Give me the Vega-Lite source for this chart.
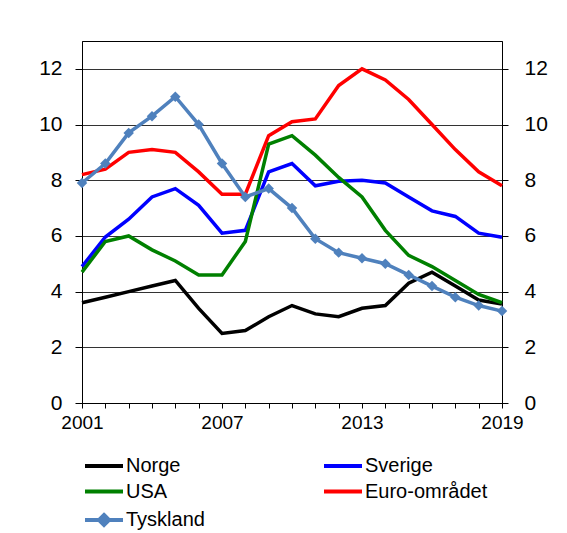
{
  "$schema": "https://vega.github.io/schema/vega-lite/v6.json",
  "width": 420,
  "height": 362,
  "autosize": {"type": "none"},
  "padding": {"left": 82, "top": 41, "right": 65, "bottom": 130},
  "background": "white",
  "config": {
    "font": "Liberation Sans",
    "view": {"stroke": "black", "strokeWidth": 1},
    "axis": {"labelFont": "Liberation Sans", "labelColor": "black", "domainColor": "black", "tickColor": "black", "titleFont": "Liberation Sans"}
  },
  "data": {
    "values": [
      {"year": 2001, "country": "Norge", "value": 3.6},
      {"year": 2002, "country": "Norge", "value": 3.8},
      {"year": 2003, "country": "Norge", "value": 4.0},
      {"year": 2004, "country": "Norge", "value": 4.2},
      {"year": 2005, "country": "Norge", "value": 4.4},
      {"year": 2006, "country": "Norge", "value": 3.4},
      {"year": 2007, "country": "Norge", "value": 2.5},
      {"year": 2008, "country": "Norge", "value": 2.6},
      {"year": 2009, "country": "Norge", "value": 3.1},
      {"year": 2010, "country": "Norge", "value": 3.5},
      {"year": 2011, "country": "Norge", "value": 3.2},
      {"year": 2012, "country": "Norge", "value": 3.1},
      {"year": 2013, "country": "Norge", "value": 3.4},
      {"year": 2014, "country": "Norge", "value": 3.5},
      {"year": 2015, "country": "Norge", "value": 4.3},
      {"year": 2016, "country": "Norge", "value": 4.7},
      {"year": 2017, "country": "Norge", "value": 4.2},
      {"year": 2018, "country": "Norge", "value": 3.7},
      {"year": 2019, "country": "Norge", "value": 3.55},
      {"year": 2001, "country": "Sverige", "value": 4.9},
      {"year": 2002, "country": "Sverige", "value": 5.96},
      {"year": 2003, "country": "Sverige", "value": 6.6},
      {"year": 2004, "country": "Sverige", "value": 7.4},
      {"year": 2005, "country": "Sverige", "value": 7.7},
      {"year": 2006, "country": "Sverige", "value": 7.1},
      {"year": 2007, "country": "Sverige", "value": 6.1},
      {"year": 2008, "country": "Sverige", "value": 6.2},
      {"year": 2009, "country": "Sverige", "value": 8.3},
      {"year": 2010, "country": "Sverige", "value": 8.6},
      {"year": 2011, "country": "Sverige", "value": 7.8},
      {"year": 2012, "country": "Sverige", "value": 7.96},
      {"year": 2013, "country": "Sverige", "value": 8.0},
      {"year": 2014, "country": "Sverige", "value": 7.9},
      {"year": 2015, "country": "Sverige", "value": 7.4},
      {"year": 2016, "country": "Sverige", "value": 6.9},
      {"year": 2017, "country": "Sverige", "value": 6.7},
      {"year": 2018, "country": "Sverige", "value": 6.1},
      {"year": 2019, "country": "Sverige", "value": 5.95},
      {"year": 2001, "country": "USA", "value": 4.7},
      {"year": 2002, "country": "USA", "value": 5.8},
      {"year": 2003, "country": "USA", "value": 6.0},
      {"year": 2004, "country": "USA", "value": 5.5},
      {"year": 2005, "country": "USA", "value": 5.1},
      {"year": 2006, "country": "USA", "value": 4.6},
      {"year": 2007, "country": "USA", "value": 4.6},
      {"year": 2008, "country": "USA", "value": 5.8},
      {"year": 2009, "country": "USA", "value": 9.3},
      {"year": 2010, "country": "USA", "value": 9.6},
      {"year": 2011, "country": "USA", "value": 8.9},
      {"year": 2012, "country": "USA", "value": 8.1},
      {"year": 2013, "country": "USA", "value": 7.4},
      {"year": 2014, "country": "USA", "value": 6.2},
      {"year": 2015, "country": "USA", "value": 5.3},
      {"year": 2016, "country": "USA", "value": 4.9},
      {"year": 2017, "country": "USA", "value": 4.4},
      {"year": 2018, "country": "USA", "value": 3.9},
      {"year": 2019, "country": "USA", "value": 3.6},
      {"year": 2001, "country": "Euro-området", "value": 8.2},
      {"year": 2002, "country": "Euro-området", "value": 8.4},
      {"year": 2003, "country": "Euro-området", "value": 9.0},
      {"year": 2004, "country": "Euro-området", "value": 9.1},
      {"year": 2005, "country": "Euro-området", "value": 9.0},
      {"year": 2006, "country": "Euro-området", "value": 8.3},
      {"year": 2007, "country": "Euro-området", "value": 7.5},
      {"year": 2008, "country": "Euro-området", "value": 7.5},
      {"year": 2009, "country": "Euro-området", "value": 9.6},
      {"year": 2010, "country": "Euro-området", "value": 10.1},
      {"year": 2011, "country": "Euro-området", "value": 10.2},
      {"year": 2012, "country": "Euro-området", "value": 11.4},
      {"year": 2013, "country": "Euro-området", "value": 12.0},
      {"year": 2014, "country": "Euro-området", "value": 11.6},
      {"year": 2015, "country": "Euro-området", "value": 10.9},
      {"year": 2016, "country": "Euro-området", "value": 10.0},
      {"year": 2017, "country": "Euro-området", "value": 9.1},
      {"year": 2018, "country": "Euro-området", "value": 8.3},
      {"year": 2019, "country": "Euro-området", "value": 7.8},
      {"year": 2001, "country": "Tyskland", "value": 7.9},
      {"year": 2002, "country": "Tyskland", "value": 8.6},
      {"year": 2003, "country": "Tyskland", "value": 9.7},
      {"year": 2004, "country": "Tyskland", "value": 10.3},
      {"year": 2005, "country": "Tyskland", "value": 11.0},
      {"year": 2006, "country": "Tyskland", "value": 10.0},
      {"year": 2007, "country": "Tyskland", "value": 8.6},
      {"year": 2008, "country": "Tyskland", "value": 7.4},
      {"year": 2009, "country": "Tyskland", "value": 7.7},
      {"year": 2010, "country": "Tyskland", "value": 7.0},
      {"year": 2011, "country": "Tyskland", "value": 5.9},
      {"year": 2012, "country": "Tyskland", "value": 5.4},
      {"year": 2013, "country": "Tyskland", "value": 5.2},
      {"year": 2014, "country": "Tyskland", "value": 5.0},
      {"year": 2015, "country": "Tyskland", "value": 4.6},
      {"year": 2016, "country": "Tyskland", "value": 4.2},
      {"year": 2017, "country": "Tyskland", "value": 3.8},
      {"year": 2018, "country": "Tyskland", "value": 3.5},
      {"year": 2019, "country": "Tyskland", "value": 3.3}
    ]
  },
  "encoding": {
    "x": {
      "field": "year", "type": "quantitative",
      "scale": {"domain": [2001, 2019], "nice": false, "zero": false},
      "axis": {
        "title": null, "grid": false,
        "values": [2001,2002,2003,2004,2005,2006,2007,2008,2009,2010,2011,2012,2013,2014,2015,2016,2017,2018,2019],
        "labelExpr": "(datum.value - 2001) % 6 === 0 ? datum.value : ''",
        "format": "d", "tickSize": 5, "labelPadding": 5, "labelFontSize": 19,
        "labelFlush": false, "labelOverlap": false, "domainColor": "black"
      }
    },
    "y": {
      "field": "value", "type": "quantitative",
      "scale": {"domain": [0, 13], "nice": false}
    }
  },
  "layer": [
    {
      "mark": {"type": "line", "strokeWidth": 3.5, "strokeJoin": "miter"},
      "encoding": {
        "y": {
          "field": "value", "type": "quantitative",
          "axis": {"title": null, "orient": "left", "values": [0,2,4,6,8,10,12], "grid": true, "gridColor": "#333333", "gridWidth": 1, "tickSize": 7, "labelPadding": 13, "labelFontSize": 21, "domainColor": "black"}
        },
        "color": {
          "field": "country", "type": "nominal",
          "scale": {
            "domain": ["Norge", "Sverige", "USA", "Euro-området", "Tyskland"],
            "range": ["#000000", "#0000FF", "#008000", "#FF0000", "#4F81BD"]
          },
          "legend": {
            "orient": "none", "legendX": -2, "legendY": 415, "direction": "horizontal",
            "title": null, "columns": 2, "columnPadding": 111, "rowPadding": 5.5,
            "labelFontSize": 20, "labelFont": "Liberation Sans", "labelColor": "black",
            "labelOffset": 26, "symbolSize": 100, "symbolStrokeWidth": 4,
            "labelLimit": 300,
            "encode": {
              "symbols": {
                "update": {
                  "shape": {"signal": "datum.value === 'Tyskland' ? 'M-1,0L6.6,0M2.8,-1L3.8,0L2.8,1L1.8,0Z' : 'M-1,0L6.6,0'"},
                  "fill": {"signal": "datum.value === 'Tyskland' ? '#4F81BD' : 'transparent'"},
                  "strokeWidth": {"value": 4}
                }
              }
            }
          }
        }
      }
    },
    {
      "transform": [{"filter": "datum.country === 'Tyskland'"}],
      "mark": {"type": "point", "shape": "diamond", "size": 110, "filled": true, "opacity": 1, "color": "#4F81BD"},
      "encoding": {
        "y": {
          "field": "value", "type": "quantitative",
          "axis": {"title": null, "orient": "right", "values": [0,2,4,6,8,10,12], "grid": false, "tickSize": 6, "labelPadding": 16, "labelFontSize": 21, "domainColor": "black"}
        }
      }
    }
  ],
  "resolve": {"axis": {"y": "independent"}}
}
